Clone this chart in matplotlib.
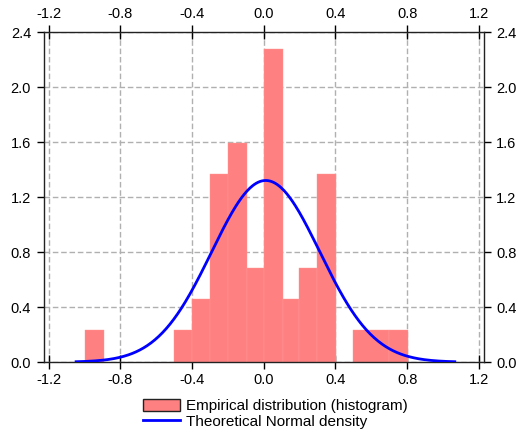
import numpy as np
import matplotlib
matplotlib.use("Agg")
import matplotlib.pyplot as plt
from matplotlib.patches import Patch
from matplotlib.lines import Line2D

plt.rcParams['font.family'] = ['Liberation Sans', 'DejaVu Sans']

# Histogram bins (left edges, right edges) and densities
bin_left = [-1.00, -0.50, -0.40, -0.30, -0.20, -0.093, 0.00, 0.106, 0.197, 0.298, 0.50, 0.70]
bin_right = [-0.894, -0.40, -0.30, -0.20, -0.093, 0.00, 0.106, 0.197, 0.298, 0.402, 0.70, 0.805]
density = [0.23, 0.23, 0.457, 1.366, 1.59, 0.684, 2.274, 0.457, 0.684, 1.366, 0.23, 0.23]

# Theoretical normal parameters
mu = 0.011
sigma = 0.302
curve_lo, curve_hi = -1.047, 1.066

xticks = [-1.2, -0.8, -0.4, 0.0, 0.4, 0.8, 1.2]
yticks = [0.0, 0.4, 0.8, 1.2, 1.6, 2.0, 2.4]

fig = plt.figure(figsize=(5.18, 4.40), dpi=100)
ax = fig.add_axes([0.084, 0.177, 0.850, 0.750])

widths = np.array(bin_right) - np.array(bin_left)
ax.bar(bin_left, density, width=widths, align='edge', color='#ff8080',
       edgecolor='#ff9a9a', linewidth=0.3, zorder=2)

xs = np.linspace(curve_lo, curve_hi, 400)
ys = np.exp(-0.5 * ((xs - mu) / sigma) ** 2) / (sigma * np.sqrt(2 * np.pi))
ax.plot(xs, ys, color='#0000ff', lw=2, zorder=3)

ax.set_xlim(-1.229, 1.228)
ax.set_ylim(0, 2.4)
ax.set_xticks(xticks)
ax.set_yticks(yticks)
ax.set_xticklabels([f"{v:.1f}" for v in xticks])
ax.set_yticklabels([f"{v:.1f}" for v in yticks])
ax.grid(True, color='#b0b0b0', linestyle=(0, (4, 2)), linewidth=1, zorder=1)
ax.set_axisbelow(True)

ax.tick_params(axis='x', which='both', direction='inout', length=10, width=1,
               top=True, labeltop=True, bottom=True, labelbottom=True,
               labelsize=10.5, pad=3, colors='black')
ax.tick_params(axis='y', which='both', direction='out', length=5, width=1,
               left=True, right=True, labelleft=True, labelright=True,
               labelsize=10.5, pad=4, colors='black')
for s in ax.spines.values():
    s.set_linewidth(1)
    s.set_color('#222222')

handles = [Patch(facecolor='#ff8080', edgecolor='#222222', linewidth=1),
           Line2D([0], [0], color='#0000ff', lw=2)]
labels = ['Empirical distribution (histogram)', 'Theoretical Normal density']
fig.legend(handles, labels, loc='center', bbox_to_anchor=(0.532, 0.059),
           frameon=False, fontsize=11, handlelength=2.4, handleheight=0.8,
           handletextpad=0.4, labelspacing=0.1, borderpad=0)

fig.savefig('out.png', dpi=100)
